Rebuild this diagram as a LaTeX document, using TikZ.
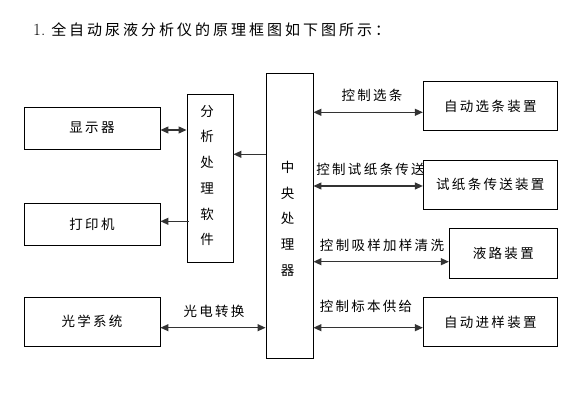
\documentclass[tikz,border=0pt]{standalone}
\usepackage{fontspec}
\usetikzlibrary{arrows.meta}
\newfontfamily\cjk[LetterSpace=17]{Noto Sans CJK SC}
\newfontfamily\cjktitle[LetterSpace=20]{Noto Sans CJK SC}
\begin{document}
\begin{tikzpicture}[x=1pt,y=-1pt,
  box/.style={draw=black,line width=0.9pt,fill=white,inner sep=0pt,font=\cjk\fontsize{13.5}{16}\selectfont},
  lbl/.style={inner sep=0pt,font=\cjk\fontsize{13.5}{16}\selectfont},
  vtxt/.style={inner sep=0pt,align=center,font=\cjk\fontsize{13.5}{25.7}\selectfont},
  conn/.style={draw=black!80,line width=1.2pt,arrows={-Triangle[length=8pt,width=7pt]}},
  dconn/.style={draw=black!80,line width=1.2pt,arrows={Triangle[length=8pt,width=7pt]-Triangle[length=8pt,width=7pt]}}]
\useasboundingbox (0,0) rectangle (585,403);
% title
\node[anchor=west,inner sep=0pt,font=\fontsize{17}{20}\selectfont] (title) at (33,30) {1.\hspace{6pt}{\cjktitle\fontsize{15}{18}\selectfont 全自动尿液分析仪的原理框图如下图所示：}};
% labels (drawn first, boxes cover them)
\node[lbl] (l1) at (372,95) {控制选条};
\node[lbl] (l2) at (370.5,169.5) {控制试纸条传送};
\node[lbl] (l3) at (382,245) {控制吸样加样清洗};
\node[lbl] (l4) at (366,306.5) {控制标本供给};
\node[lbl] (l5) at (214,311.5) {光电转换};
% boxes
\node[box,minimum width=136pt,minimum height=42pt] (disp) at (92,128) {显示器};
\node[box,minimum width=136pt,minimum height=42pt] (prn) at (92,224) {打印机};
\node[box,minimum width=136pt,minimum height=49pt] (opt) at (92,321.7) {光学系统};
\node[box,minimum width=46pt,minimum height=168pt] (ana) at (210,178) {};
\node[vtxt] (anat) at (207,175.5) {分\\析\\处\\理\\软\\件};
\node[box,minimum width=47pt,minimum height=285pt] (cpu) at (289.5,215.7) {};
\node[vtxt] (cput) at (287.5,218.7) {中\\央\\处\\理\\器};
\node[box,minimum width=134pt,minimum height=48.6pt] (b1) at (490.3,106) {自动选条装置};
\node[box,minimum width=134pt,minimum height=48.7pt] (b2) at (490.3,184.6) {试纸条传送装置};
\node[box,minimum width=108pt,minimum height=50pt] (b3) at (503.3,253.3) {液路装置};
\node[box,minimum width=134pt,minimum height=48.6pt] (b4) at (490.3,322) {自动进样装置};
% connectors
\draw[dconn] (disp.east |- {0,130}) -- (ana.west |- {0,130});
\draw[conn] (ana.west |- {0,221.3}) ++(2,0) -- (prn.east |- {0,221.3});
\draw[conn] (cpu.west |- {0,154.3}) -- (ana.east |- {0,154.3});
\draw[dconn] (opt.east |- {0,327.7}) -- (cpu.west |- {0,327.7});
\draw[dconn] (cpu.east |- {0,112.3}) -- (b1.west |- {0,112.3});
\draw[dconn] (cpu.east |- {0,186}) -- (b2.west |- {0,186});
\draw[dconn] (cpu.east |- {0,261.7}) -- (b3.west |- {0,261.7});
\draw[dconn] (cpu.east |- {0,327.7}) -- (b4.west |- {0,327.7});
\end{tikzpicture}
\end{document}
